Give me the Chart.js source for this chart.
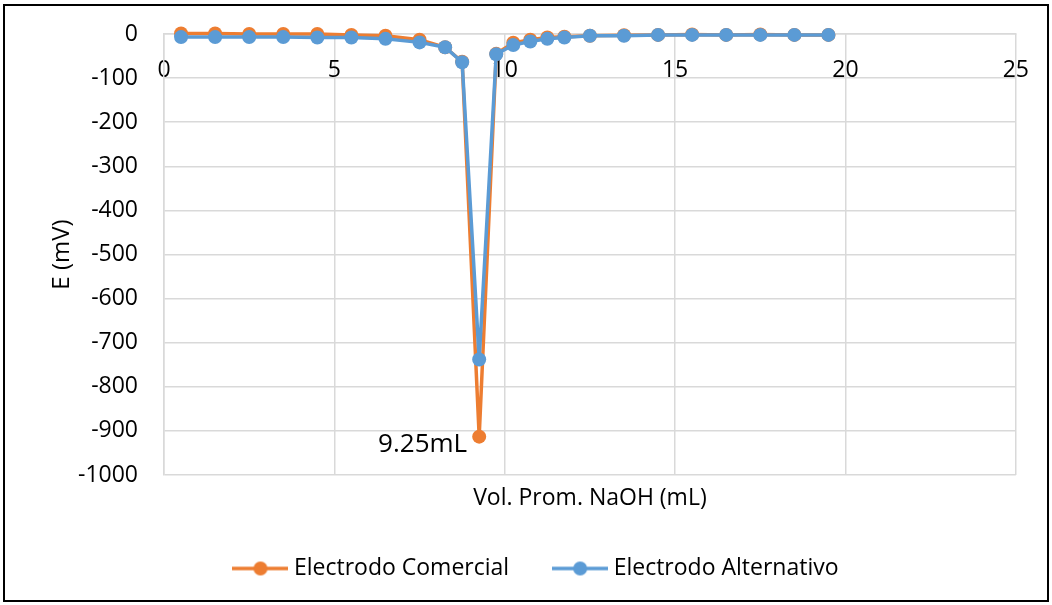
<!DOCTYPE html>
<html>
<head>
<meta charset="utf-8">
<script src="https://cdn.jsdelivr.net/npm/chart.js@4"></script>
<style>
    html, body { margin: 0; padding: 0; background: #fff; }
    #contenedor { width: 1052px; height: 605px; position: relative; }
</style>
</head>
<body>
<div id="contenedor"><canvas id="grafico"></canvas></div>
<script>
'use strict';

// volumen promedio de NaOH (mL)
const volumen = [0.5, 1.5, 2.5, 3.5, 4.5, 5.5, 6.5, 7.5, 8.25, 8.75, 9.25, 9.75,
    10.25, 10.75, 11.25, 11.75, 12.5, 13.5, 14.5, 15.5, 16.5, 17.5, 18.5, 19.5];

// E (mV)
const comercial = [1, 1, 0, 0, 0, -2, -4, -13, -30, -63, -913, -45,
    -20, -13, -8, -6, -4, -3, -2, -1, -2, -1, -2, -2];
const alternativo = [-7, -7, -7, -7, -8, -8, -11, -19, -30, -64, -738, -46,
    -25, -17, -11, -8, -4, -4, -2, -2, -2, -2, -2, -2];

const series = ['Electrodo Comercial', 'Electrodo Alternativo'];
const colores = ['#ED7D31', '#5B9BD5'];
const limitesX = [0, 25];
const limitesY = [-1000, 0];
const etiquetaPunto = '9.25mL';

const fuente = { family: "'Open Sans'", size: 23 };
const gris = '#d9d9d9';

function puntos(valores) {
    return volumen.map((v, i) => ({ x: v, y: valores[i] }));
}

function iconoLeyenda(color) {
    const c = document.createElement('canvas');
    c.width = 56;
    c.height = 16;
    const ctx = c.getContext('2d');
    ctx.strokeStyle = color;
    ctx.lineWidth = 3.5;
    ctx.beginPath();
    ctx.moveTo(0, 8);
    ctx.lineTo(56, 8);
    ctx.stroke();
    ctx.fillStyle = color;
    ctx.beginPath();
    ctx.arc(28, 8, 7, 0, Math.PI * 2);
    ctx.fill();
    return c;
}

// etiqueta del punto de equivalencia y marco exterior
const extras = {
    id: 'extras',
    afterDatasetsDraw(chart) {
        const ctx = chart.ctx;
        const p = chart.getDatasetMeta(0).data[10];
        ctx.save();
        ctx.font = "26px 'Open Sans'";
        ctx.fillStyle = '#000';
        ctx.textAlign = 'right';
        ctx.textBaseline = 'middle';
        ctx.fillText(etiquetaPunto, p.x - 12, p.y + 8);
        ctx.restore();
    },
    afterDraw(chart) {
        const ctx = chart.ctx;
        ctx.save();
        ctx.strokeStyle = '#000';
        ctx.lineWidth = 2;
        ctx.strokeRect(4, 5, 1044, 596);
        ctx.restore();
    }
};

const ctx = document.getElementById('grafico');

new Chart(ctx, {
    type: 'line',
    data: {
        datasets: [
            {
                label: series[0],
                data: puntos(comercial),
                borderColor: colores[0],
                backgroundColor: colores[0],
                pointBackgroundColor: colores[0],
                borderWidth: 3.5,
                pointRadius: 7,
                pointBorderWidth: 0,
                clip: false,
                order: 1
            },
            {
                label: series[1],
                data: puntos(alternativo),
                borderColor: colores[1],
                backgroundColor: colores[1],
                pointBackgroundColor: colores[1],
                borderWidth: 3.5,
                pointRadius: 7,
                pointBorderWidth: 0,
                clip: false,
                order: 0
            }
        ]
    },
    options: {
        responsive: true,
        maintainAspectRatio: false,
        animation: false,
        devicePixelRatio: 1,
        layout: {
            padding: { left: 60, right: 35, top: 34, bottom: 15 }
        },
        plugins: {
            tooltip: { enabled: false },
            legend: {
                position: 'bottom',
                labels: {
                    usePointStyle: true,
                    pointStyleWidth: 44,
                    boxHeight: 16,
                    padding: 49,
                    color: '#000',
                    font: fuente,
                    generateLabels(chart) {
                        return chart.data.datasets.map((ds, i) => ({
                            text: ds.label,
                            pointStyle: iconoLeyenda(ds.borderColor),
                            fillStyle: ds.borderColor,
                            strokeStyle: ds.borderColor,
                            lineWidth: 0,
                            fontColor: '#000',
                            hidden: !chart.isDatasetVisible(i),
                            datasetIndex: i
                        }));
                    }
                }
            }
        },
        scales: {
            x: {
                type: 'linear',
                position: { y: 0 },
                min: limitesX[0],
                max: limitesX[1],
                ticks: { stepSize: 5, color: '#000', font: fuente, padding: 23, maxRotation: 0 },
                grid: { color: gris, lineWidth: 1.5, drawTicks: false },
                border: { color: gris, width: 1.5 }
            },
            x2: {
                type: 'linear',
                axis: 'x',
                position: 'bottom',
                ticks: { display: false },
                grid: { display: false, drawTicks: false },
                border: { display: false },
                title: {
                    display: true,
                    text: 'Vol. Prom. NaOH (mL)',
                    color: '#000',
                    font: { family: "'Open Sans'", size: 23, lineHeight: 1 },
                    padding: { top: 12, bottom: -2 }
                }
            },
            y: {
                min: limitesY[0],
                max: limitesY[1],
                ticks: {
                    stepSize: 100, color: '#000', font: fuente, padding: 26,
                    callback: (v) => String(v)
                },
                grid: { color: gris, lineWidth: 1.5, drawTicks: false },
                border: { color: gris, width: 1.5 },
                title: {
                    display: true,
                    text: 'E (mV)',
                    color: '#000',
                    font: { family: "'Open Sans'", size: 24, lineHeight: 1 },
                    padding: { top: -10, bottom: 0 }
                },
                afterFit(scale) {
                    scale.width = 104;
                    // el padding de las etiquetas no debe empujar el area hacia abajo
                    scale.paddingTop = 14;
                    scale.paddingBottom = 14;
                }
            }
        }
    },
    plugins: [extras]
});
</script>
</body>
</html>
